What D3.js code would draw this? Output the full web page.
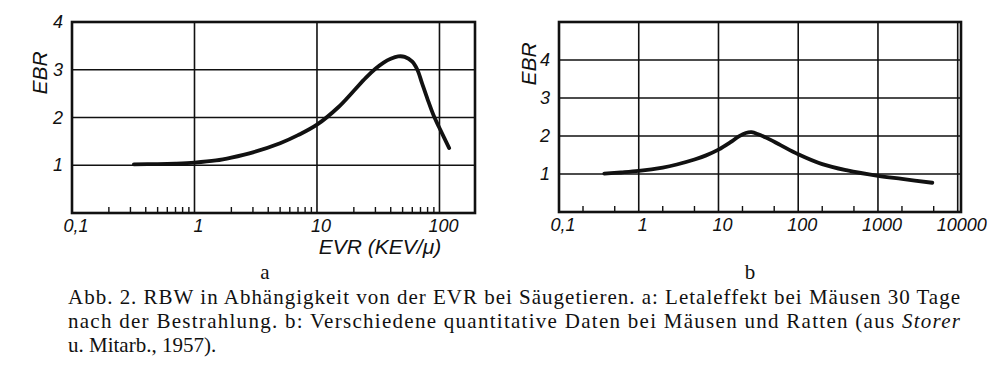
<!DOCTYPE html>
<html>
<head>
<meta charset="utf-8">
<script src="https://cdn.jsdelivr.net/npm/d3@7"></script>
<style>
  body { margin: 0; background: #fff; }
  .tick-label { font-family: "Liberation Sans", Arial, sans-serif; font-style: italic; font-size: 18px; fill: #111; }
  .caption { font-family: "Liberation Serif", "DejaVu Serif", serif; font-size: 21px; fill: #111; }
</style>
</head>
<body>
<script>
'use strict';
// panel a: Letaleffekt bei Mäusen
const evrA = [0.32, 0.5, 0.7, 1, 1.5, 2, 3, 5, 7, 10, 15, 20, 25, 30, 35, 40, 46, 52, 60, 66, 72, 80, 90, 100, 120];
const ebrA = [1.02, 1.025, 1.035, 1.055, 1.1, 1.16, 1.27, 1.46, 1.63, 1.85, 2.22, 2.56, 2.83, 3.02, 3.15, 3.23, 3.28, 3.27, 3.17, 3.0, 2.72, 2.38, 2.03, 1.78, 1.36];
// panel b: Mäuse und Ratten
const evrB = [0.37, 0.6, 1, 2, 3, 5, 7, 10, 14, 18, 22, 26, 32, 40, 60, 100, 200, 400, 1000, 2000, 4800];
const ebrB = [1.01, 1.04, 1.08, 1.17, 1.25, 1.38, 1.49, 1.64, 1.83, 1.99, 2.08, 2.1, 2.04, 1.95, 1.76, 1.52, 1.26, 1.1, 0.95, 0.87, 0.77];

const xTicksA = [0.1, 1, 10, 100];
const xTicksB = [0.1, 1, 10, 100, 1000, 10000];
const yTicksA = [1, 2, 3, 4];
const yTicksB = [1, 2, 3, 4];
const minorA = [2, 3, 4, 5, 6, 7, 8, 9];
const minorB = [2, 5];

const caption1 = "Abb. 2. RBW in Abhängigkeit von der EVR bei Säugetieren.  a: Letaleffekt bei Mäusen 30 Tage";
const caption2 = "nach der Bestrahlung.  b: Verschiedene quantitative Daten bei Mäusen und Ratten (aus ";
const caption2i = "Storer";
const caption3 = "u. Mitarb., 1957).";

const svg = d3.select('body').append('svg').attr('width', 997).attr('height', 373);

function fmt(v) { return v < 1 ? String(v).replace('.', ',') : String(v); }

function drawPanel(p) {
  let x = d3.scaleLog().domain(p.xDomain).range([p.left, p.right]);
  let y = d3.scaleLinear().domain(p.yDomain).range([p.bottom, p.top]);
  let g = svg.append('g');

  // vertical grid at decades
  g.selectAll('line.vg').data(p.xTicks.filter(d => d > p.xDomain[0])).enter().append('line')
    .attr('x1', d => x(d)).attr('x2', d => x(d))
    .attr('y1', p.top).attr('y2', p.bottom)
    .attr('stroke', '#111').attr('stroke-width', 1.6);
  // horizontal grid
  g.selectAll('line.hg').data(p.yTicks.filter(d => d < p.yDomain[1])).enter().append('line')
    .attr('x1', p.left).attr('x2', p.right)
    .attr('y1', d => y(d)).attr('y2', d => y(d))
    .attr('stroke', '#111').attr('stroke-width', 1.6);

  // minor ticks on the bottom
  let minor = [];
  p.xTicks.forEach(dec => p.minor.forEach(m => { if (dec * m < p.xDomain[1]) minor.push(dec * m); }));
  g.selectAll('line.mt').data(minor).enter().append('line')
    .attr('x1', d => x(d)).attr('x2', d => x(d))
    .attr('y1', p.bottom).attr('y2', p.bottom - 6)
    .attr('stroke', '#111').attr('stroke-width', 1.4);

  // frame
  g.append('rect')
    .attr('x', p.left).attr('y', p.top)
    .attr('width', p.right - p.left).attr('height', p.bottom - p.top)
    .attr('fill', 'none').attr('stroke', '#111').attr('stroke-width', 2.6);

  // curve
  let line = d3.line().x(d => x(d[0])).y(d => y(d[1])).curve(d3.curveCatmullRom.alpha(0.5));
  g.append('path')
    .datum(d3.zip(p.xs, p.ys))
    .attr('fill', 'none').attr('stroke', '#111')
    .attr('stroke-width', 3.8).attr('stroke-linecap', 'round')
    .attr('d', line);

  // tick labels
  g.selectAll('text.xl').data(p.xTicks).enter().append('text')
    .attr('class', 'tick-label')
    .attr('x', d => x(d) + 4).attr('y', p.bottom + 19)
    .attr('text-anchor', 'middle')
    .text(fmt);
  g.selectAll('text.yl').data(p.yTicks).enter().append('text')
    .attr('class', 'tick-label')
    .attr('x', p.left - 9).attr('y', d => y(d) + 6)
    .attr('text-anchor', 'end')
    .text(d => d);

  g.append('text')
    .attr('class', 'tick-label')
    .attr('transform', 'translate(' + p.ebrX + ',' + p.ebrY + ')rotate(-90)')
    .attr('text-anchor', 'middle')
    .style('font-size', '21px')
    .text('EBR');
  return { x: x, y: y };
}

drawPanel({
  left: 72, right: 475, top: 22, bottom: 213,
  xDomain: [0.1, 195], yDomain: [0, 4],
  xTicks: xTicksA, yTicks: yTicksA, minor: minorA,
  xs: evrA, ys: ebrA, ebrX: 47, ebrY: 73
});
drawPanel({
  left: 559, right: 961, top: 22, bottom: 212,
  xDomain: [0.1, 11000], yDomain: [0, 5],
  xTicks: xTicksB, yTicks: yTicksB, minor: minorB,
  xs: evrB, ys: ebrB, ebrX: 536, ebrY: 64
});

svg.append('text')
  .attr('class', 'tick-label')
  .attr('x', 380).attr('y', 254)
  .attr('text-anchor', 'middle')
  .style('font-size', '21px')
  .text('EVR (KEV/μ)');

// panel letters and caption
svg.append('text').attr('class', 'caption').attr('x', 265).attr('y', 279).attr('text-anchor', 'middle').text('a');
svg.append('text').attr('class', 'caption').attr('x', 750).attr('y', 279).attr('text-anchor', 'middle').text('b');

svg.append('text').attr('class', 'caption')
  .attr('x', 68).attr('y', 304)
  .attr('textLength', 892).attr('lengthAdjust', 'spacing')
  .text(caption1);
let l2 = svg.append('text').attr('class', 'caption')
  .attr('x', 68).attr('y', 328)
  .attr('textLength', 892).attr('lengthAdjust', 'spacing');
l2.append('tspan').text(caption2);
l2.append('tspan').style('font-style', 'italic').text(caption2i);
svg.append('text').attr('class', 'caption')
  .attr('x', 68).attr('y', 352)
  .text(caption3);
</script>
</body>
</html>
